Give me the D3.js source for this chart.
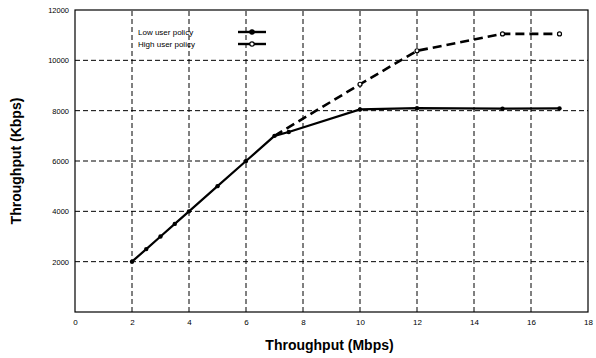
<!DOCTYPE html>
<html>
<head>
<meta charset="utf-8">
<script src="https://cdn.jsdelivr.net/npm/d3@7"></script>
<style>
  body { margin: 0; background: #fff; }
  text { font-family: "Liberation Sans", Arial, sans-serif; }
</style>
</head>
<body>
<div id="chart"></div>
<script>
// x in Mbps, y in Kbps
var lowX = [2, 2.5, 3, 3.5, 4, 5, 6, 7, 7.5, 10, 12, 15, 17];
var lowY = [2000, 2500, 3000, 3500, 4000, 5000, 6000, 7000, 7150, 8050, 8100, 8080, 8090];
var highX = [7, 10, 12, 15, 17];
var highY = [7000, 9050, 10380, 11050, 11050];
var xTicks = [0, 2, 4, 6, 8, 10, 12, 14, 16, 18];
var yTicks = [2000, 4000, 6000, 8000, 10000, 12000];
var seriesNames = ["Low user policy", "High user policy"];

var width = 596, height = 358;
var margin = {top: 10, right: 8, bottom: 46, left: 75};

var svg = d3.select("#chart").append("svg")
  .attr("width", width)
  .attr("height", height);

var x = d3.scaleLinear().domain([0, 18]).range([margin.left, width - margin.right]);
var y = d3.scaleLinear().domain([0, 12000]).range([height - margin.bottom, margin.top]);

// grid
svg.append("g")
  .attr("stroke", "#000")
  .attr("stroke-width", 1)
  .attr("stroke-dasharray", "5,3")
  .selectAll("line")
  .data(xTicks.filter(d => d > 0 && d < 18))
  .enter().append("line")
  .attr("x1", d => x(d)).attr("x2", d => x(d))
  .attr("y1", y(0)).attr("y2", y(12000));

svg.append("g")
  .attr("stroke", "#000")
  .attr("stroke-width", 1)
  .attr("stroke-dasharray", "5,3")
  .selectAll("line")
  .data(yTicks.filter(d => d < 12000))
  .enter().append("line")
  .attr("x1", x(0)).attr("x2", x(18))
  .attr("y1", d => y(d)).attr("y2", d => y(d));

// frame
svg.append("rect")
  .attr("x", x(0)).attr("y", y(12000))
  .attr("width", x(18) - x(0)).attr("height", y(0) - y(12000))
  .attr("fill", "none").attr("stroke", "#000").attr("stroke-width", 1.2);

// axes labels
var xAxis = d3.axisBottom(x).tickValues(xTicks).tickSize(0).tickPadding(7);
svg.append("g")
  .attr("transform", `translate(0,${y(0)})`)
  .call(xAxis)
  .call(g => g.select(".domain").remove())
  .selectAll("text")
  .attr("font-size", 8).attr("fill", "#000");

var yAxis = d3.axisLeft(y).tickValues(yTicks).tickFormat(d3.format("d")).tickSize(0).tickPadding(6);
svg.append("g")
  .attr("transform", `translate(${x(0)},0)`)
  .call(yAxis)
  .call(g => g.select(".domain").remove())
  .selectAll("text")
  .attr("font-size", 7.5).attr("fill", "#000");

// lines
var lowData = lowX.map((d, i) => [d, lowY[i]]);
var highData = highX.map((d, i) => [d, highY[i]]);
var line = d3.line().x(d => x(d[0])).y(d => y(d[1]));

svg.append("path")
  .datum(highData)
  .attr("d", line)
  .attr("fill", "none")
  .attr("stroke", "#000")
  .attr("stroke-width", 2.6)
  .attr("stroke-dasharray", "9,5");

svg.append("path")
  .datum(lowData)
  .attr("d", line)
  .attr("fill", "none")
  .attr("stroke", "#000")
  .attr("stroke-width", 2.2);

svg.append("g").selectAll("circle")
  .data(lowData)
  .enter().append("circle")
  .attr("cx", d => x(d[0])).attr("cy", d => y(d[1]))
  .attr("r", 2.2).attr("fill", "#000");

svg.append("g").selectAll("circle")
  .data(highData.slice(1))
  .enter().append("circle")
  .attr("cx", d => x(d[0])).attr("cy", d => y(d[1]))
  .attr("r", 2).attr("fill", "#fff").attr("stroke", "#000").attr("stroke-width", 1.2);

// legend
var legend = svg.append("g").attr("transform", "translate(138,32)");
seriesNames.forEach(function(name, i) {
  var g = legend.append("g").attr("transform", `translate(0,${i * 12})`);
  g.append("text").attr("x", 0).attr("y", 3)
    .attr("font-size", 8).style("fill", "#000").text(name);
  g.append("line")
    .attr("x1", 100).attr("x2", 128).attr("y1", 0).attr("y2", 0)
    .attr("stroke", "#000").attr("stroke-width", 2.4);
  g.append("circle").attr("cx", 114).attr("cy", 0).attr("r", 2.2)
    .attr("fill", i === 0 ? "#000" : "#fff").attr("stroke", "#000").attr("stroke-width", 1.2);
});

// titles
svg.append("text")
  .attr("x", (x(0) + x(18)) / 2 - 2).attr("y", 350)
  .attr("text-anchor", "middle")
  .attr("font-size", 14).attr("font-weight", "bold").attr("fill", "#000")
  .text("Throughput (Mbps)");

svg.append("text")
  .attr("transform", `translate(21,${(y(0) + y(12000)) / 2}) rotate(-90)`)
  .attr("text-anchor", "middle")
  .attr("font-size", 14).attr("font-weight", "bold").attr("fill", "#000")
  .text("Throughput (Kbps)");
</script>
</body>
</html>
